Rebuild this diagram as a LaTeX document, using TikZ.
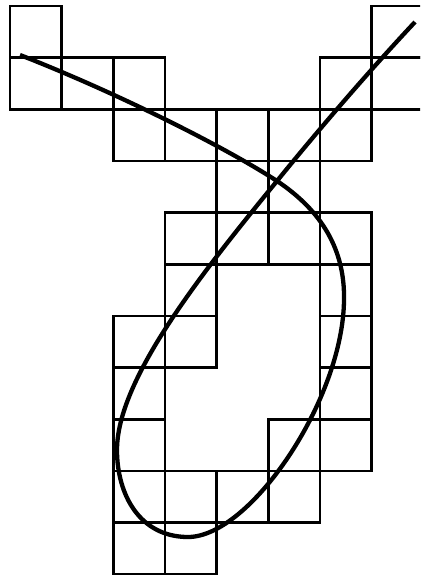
\documentclass[tikz,border=0pt]{standalone}
\usepackage{tikz}
\usetikzlibrary{calc}

\begin{document}
\begin{tikzpicture}[
    x=1pt, y=-1pt,
    cellBox/.style={draw=black, line width=2.6pt},
    curveLine/.style={draw=black, line width=4.3pt}
]
    \useasboundingbox (0,0) rectangle (420,577);
    \clip (0,0) rectangle (420,577);
    \def\cellSize{51.65}

    % squares met by the curve
    \foreach \c/\r in {0/0, 7/0,
        0/1, 1/1, 2/1, 6/1, 7/1,
        2/2, 3/2, 4/2, 5/2, 6/2,
        4/3, 5/3,
        3/4, 4/4, 5/4, 6/4,
        3/5, 6/5,
        2/6, 3/6, 6/6,
        2/7, 6/7,
        2/8, 5/8, 6/8,
        2/9, 3/9, 4/9, 5/9,
        2/10, 3/10}
        \draw[cellBox] ({10+\c*\cellSize},{6+\r*\cellSize}) rectangle ++(\cellSize,\cellSize);

    % the curve
    \coordinate (start) at (20,55);
    \coordinate (cross) at (277,181);
    \coordinate (east) at (344,300);
    \coordinate (south) at (188,537);
    \coordinate (west) at (117,450);
    \coordinate (stop) at (415,22);
    \draw[curveLine] (start) .. controls (110,90) and (220,144) .. (cross)
        .. controls (322,211) and (345,250) .. (east)
        .. controls (343,400) and (250,537) .. (south)
        .. controls (140,537) and (117,495) .. (west)
        .. controls (117,380) and (200,275) .. (cross)
        .. controls (320,128) and (370,70) .. (stop);
\end{tikzpicture}
\end{document}
